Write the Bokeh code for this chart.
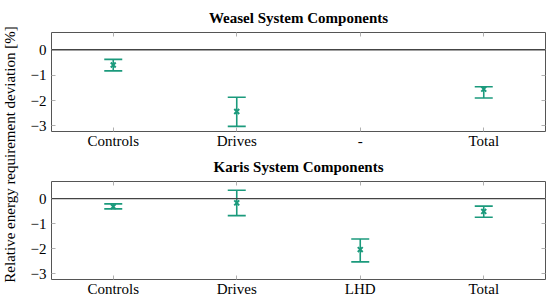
import math
from bokeh.plotting import figure
from bokeh.models import (ColumnDataSource, Whisker, TeeHead, Span, FixedTicker,
                          LinearAxis, CategoricalAxis, Label, Range1d)
from bokeh.layouts import row, column
from bokeh.embed import file_html
from bokeh.resources import INLINE

# ---- data ----
weasel_factors = ["Controls", "Drives", "-", "Total"]
weasel_cats = ["Controls", "Drives", "Total"]
weasel_mean = [-0.60, -2.43, -1.55]
weasel_low = [-0.83, -3.02, -1.90]
weasel_high = [-0.38, -1.87, -1.46]

karis_factors = ["Controls", "Drives", "LHD", "Total"]
karis_cats = ["Controls", "Drives", "LHD", "Total"]
karis_mean = [-0.32, -0.17, -2.03, -0.51]
karis_low = [-0.41, -0.68, -2.52, -0.74]
karis_high = [-0.21, 0.33, -1.61, -0.30]

y_ticks = [0, -1, -2, -3]
y_tick_labels = {0: "0", -1: "\u22121", -2: "\u22122", -3: "\u22123"}

COLOR = "#1b9a7c"
FONT = "Liberation Serif"
TICK_COLOR = "#b0b0b0"


def make(title, factors, cats, mean, low, high, frame_h, top_border, bottom_border, title_standoff):
    p = figure(x_range=factors, y_range=Range1d(-3.22, 0.68),
               frame_width=494, frame_height=frame_h,
               output_backend="svg", toolbar_location=None,
               min_border_left=31, min_border_right=4,
               min_border_top=top_border, min_border_bottom=bottom_border)
    p.title.text = title
    p.title.align = "center"
    p.title.vertical_align = "top"
    p.title.text_font = FONT
    p.title.text_font_size = "15px"
    p.title.text_font_style = "bold"
    p.title.text_color = "black"
    p.title.standoff = title_standoff
    p.outline_line_color = "#555555"
    p.outline_line_width = 1
    p.xgrid.grid_line_color = None
    p.ygrid.grid_line_color = None

    p.yaxis.ticker = FixedTicker(ticks=y_ticks)
    p.yaxis.major_label_overrides = y_tick_labels
    for ax in (p.xaxis[0], p.yaxis[0]):
        ax.axis_line_color = None
        ax.major_tick_in = 4
        ax.major_tick_out = 0
        ax.minor_tick_line_color = None
        ax.major_tick_line_color = TICK_COLOR
        ax.major_label_text_font = FONT
        ax.major_label_text_font_size = "15px"
        ax.major_label_text_color = "black"
    p.xaxis.major_label_standoff = 1
    p.yaxis.major_label_standoff = 5

    right = LinearAxis(ticker=FixedTicker(ticks=y_ticks), axis_line_color=None,
                       major_tick_in=4, major_tick_out=0, minor_tick_line_color=None,
                       major_tick_line_color=TICK_COLOR,
                       major_label_text_color=None, major_label_text_font=FONT,
                       major_label_text_font_size="1px", major_label_standoff=0)
    p.add_layout(right, "right")
    top = CategoricalAxis(axis_line_color=None, major_tick_in=4, major_tick_out=0,
                          major_tick_line_color=TICK_COLOR,
                          major_label_text_color=None, major_label_text_font=FONT,
                          major_label_text_font_size="1px", major_label_standoff=0)
    p.add_layout(top, "above")

    p.add_layout(Span(location=0, dimension="width", line_color="#444444", line_width=1.3))

    src = ColumnDataSource(dict(x=cats, mean=mean, low=low, high=high))
    w = Whisker(source=src, base="x", lower="low", upper="high", dimension="height",
                line_color=COLOR, line_width=1.6,
                upper_head=TeeHead(size=18, line_color=COLOR, line_width=1.6),
                lower_head=TeeHead(size=18, line_color=COLOR, line_width=1.6))
    p.add_layout(w)
    p.scatter(x="x", y="mean", source=src, marker="x", size=7, line_width=2, color=COLOR)
    return p


p1 = make("Weasel System Components", weasel_factors, weasel_cats, weasel_mean,
          weasel_low, weasel_high, 99, 32, 20, 10)
p2 = make("Karis System Components", karis_factors, karis_cats, karis_mean,
          karis_low, karis_high, 98, 30, 19, 10)

lab = figure(width=20, height=298, output_backend="svg", toolbar_location=None,
             min_border=0, x_axis_location=None, y_axis_location=None)
lab.outline_line_color = None
lab.xgrid.grid_line_color = None
lab.ygrid.grid_line_color = None
lab.add_layout(Label(x=9, y=144, x_units="screen", y_units="screen",
                     text="Relative energy requirement deviation [%]", angle=math.pi / 2,
                     text_align="center", text_baseline="middle", text_font=FONT,
                     text_font_size="15px", text_color="black"))

p = row(lab, column(p1, p2))
open("out.html", "w").write(file_html(p, INLINE))
